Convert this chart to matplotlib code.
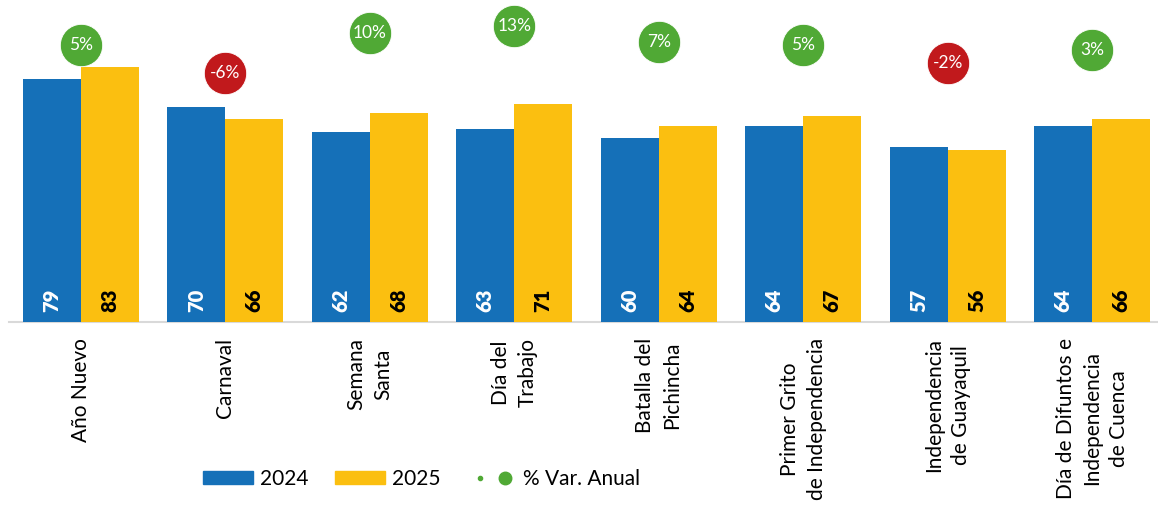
import matplotlib
matplotlib.use("Agg")
import matplotlib.pyplot as plt
import numpy as np
from matplotlib.lines import Line2D
from matplotlib.patches import Patch
from matplotlib.legend_handler import HandlerTuple

plt.rcParams['font.family'] = ['Lato', 'DejaVu Sans']

categories = ["Año Nuevo", "Carnaval", "Semana\nSanta", "Día del\nTrabajo",
              "Batalla del\nPichincha", "Primer Grito\nde Independencia",
              "Independencia\nde Guayaquil",
              "Día de Difuntos e\nIndependencia\nde Cuenca"]
values_2024 = [79, 70, 62, 63, 60, 64, 57, 64]
values_2025 = [83, 66, 68, 71, 64, 67, 56, 66]
var_pct = [5.0, -5.7, 9.8, 12.7, 6.5, 5.0, -1.8, 3.1]
var_labels = ["5%", "-6%", "10%", "13%", "7%", "5%", "-2%", "3%"]

BLUE = "#1570B8"
YELLOW = "#FBBF10"
GREEN = "#50A935"
RED = "#C1191C"

W, H = 1158, 508
fig = plt.figure(figsize=(W / 100, H / 100), dpi=100)
left = 8.5 / W
bottom = (H - 322) / H
ax = fig.add_axes([left, bottom, 1 - left, 322 / H])
ax2 = ax.twinx()
ax2.set_position(ax.get_position())

x = np.arange(len(categories))
bw = 0.4
ax.bar(x - bw / 2, values_2024, bw, color=BLUE, zorder=2)
ax.bar(x + bw / 2, values_2025, bw, color=YELLOW, zorder=2)

for xi, v in zip(x, values_2024):
    ax.annotate(str(v), xy=(xi - bw / 2, 0), xytext=(0, 7.5), textcoords="offset points",
                rotation=90, ha="center", va="bottom", color="white",
                fontsize=14.5, fontweight="heavy", zorder=3)
for xi, v in zip(x, values_2025):
    ax.annotate(str(v), xy=(xi + bw / 2, 0), xytext=(0, 7.5), textcoords="offset points",
                rotation=90, ha="center", va="bottom", color="black",
                fontsize=14.5, fontweight="heavy", zorder=3)

ax.set_xlim(-0.5, -0.5 + (W - 8.5) / 144.5)
ax.set_ylim(0, 322 / 3.07)
ax2.set_ylim((58.1 - 322) / 2.55, 58.1 / 2.55)

ax.axhline(0, color="#D9D9D9", lw=1.5, zorder=1, clip_on=False)

for xi, p, lab in zip(x, var_pct, var_labels):
    c = GREEN if p > 0 else RED
    ax2.plot([xi], [p], marker="o", ms=30.5, color=c, mec="white", mew=0.6,
             linestyle="none", zorder=4)
    ax2.annotate(lab, xy=(xi, p), ha="center", va="center", color="white",
                 fontsize=12.5, zorder=5)

ax.set_xticks(x)
ax.set_xticklabels(categories, rotation=90, ha="center", va="top",
                   multialignment="center", fontsize=15, linespacing=1.42)
ax.tick_params(axis="x", length=0, pad=11.5)
ax.set_yticks([])
ax2.set_yticks([])
for a in (ax, ax2):
    for s in a.spines.values():
        s.set_visible(False)
ax.patch.set_alpha(0)
ax2.patch.set_alpha(0)

h1 = Patch(color=BLUE)
h2 = Patch(color=YELLOW)
d_small = Line2D([], [], marker="o", ms=3, color=GREEN, linestyle="none")
d_big = Line2D([], [], marker="o", ms=9, color=GREEN, linestyle="none")
fig.legend([h1, h2, (d_small, d_big)], ["2024", "2025", "% Var. Anual"],
           handler_map={tuple: HandlerTuple(ndivide=None, pad=0)},
           loc="center", bbox_to_anchor=(422 / W, (H - 479) / H), ncol=3,
           frameon=False, fontsize=15, handlelength=2.4, handleheight=0.62,
           handletextpad=0.3, columnspacing=1.3)

fig.savefig("out.png", dpi=100)
